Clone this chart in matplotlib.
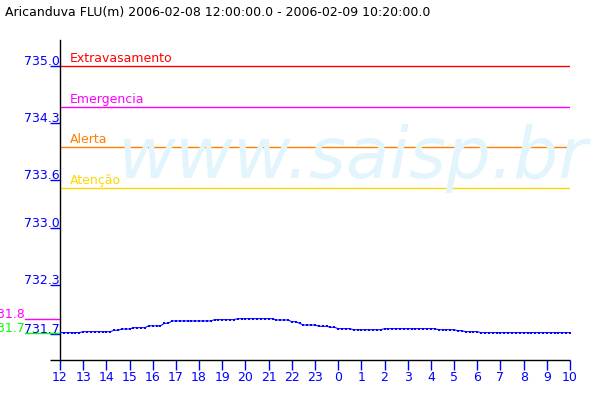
import numpy as np
import matplotlib
matplotlib.use("Agg")
import matplotlib.pyplot as plt
import matplotlib.transforms as mtransforms

# ---------------- data ----------------
title = "Aricanduva FLU(m) 2006-02-08 12:00:00.0 - 2006-02-09 10:20:00.0"
hour_labels = ["12", "13", "14", "15", "16", "17", "18", "19", "20", "21", "22", "23",
               "0", "1", "2", "3", "4", "5", "6", "7", "8", "9", "10"]
ytick_values = [735.0, 734.3, 733.6, 733.0, 732.3, 731.7]
ytick_labels = ["735.0", "734.3", "733.6", "733.0", "732.3", "731.7"]

threshold_names = ["Extravasamento", "Emergencia", "Alerta", "Atenção"]
threshold_levels = [735.0, 734.5, 734.0, 733.5]
threshold_colors = ["#ff0000", "#ff00ff", "#ff8000", "#ffd700"]

# water level, one reading every 10 minutes, from 12:00 to 10:00
level = [
    731.716, 731.716, 731.716, 731.716, 731.716, 731.716,   # 12h
    731.728, 731.728, 731.728, 731.728, 731.728, 731.728,   # 13h
    731.728, 731.728, 731.745, 731.745, 731.761, 731.761,   # 14h
    731.761, 731.777, 731.777, 731.777, 731.777, 731.800,   # 15h
    731.800, 731.800, 731.800, 731.831, 731.831, 731.860,   # 16h
    731.860, 731.860, 731.860, 731.860, 731.860, 731.860,   # 17h
    731.860, 731.860, 731.860, 731.860, 731.876, 731.876,   # 18h
    731.876, 731.876, 731.876, 731.876, 731.888, 731.888,   # 19h
    731.888, 731.888, 731.888, 731.888, 731.888, 731.888,   # 20h
    731.888, 731.888, 731.872, 731.872, 731.872, 731.872,   # 21h
    731.851, 731.851, 731.831, 731.810, 731.810, 731.810,   # 22h
    731.810, 731.794, 731.794, 731.794, 731.782, 731.782,   # 23h
    731.765, 731.765, 731.765, 731.765, 731.752, 731.752,   # 0h
    731.752, 731.752, 731.752, 731.752, 731.752, 731.752,   # 1h
    731.765, 731.765, 731.765, 731.765, 731.765, 731.765,   # 2h
    731.765, 731.765, 731.765, 731.765, 731.765, 731.765,   # 3h
    731.765, 731.765, 731.752, 731.752, 731.752, 731.752,   # 4h
    731.752, 731.740, 731.740, 731.728, 731.728, 731.728,   # 5h
    731.728, 731.716, 731.716, 731.716, 731.716, 731.716,   # 6h
    731.716, 731.716, 731.716, 731.716, 731.716, 731.716,   # 7h
    731.716, 731.716, 731.716, 731.716, 731.716, 731.716,   # 8h
    731.716, 731.716, 731.716, 731.716, 731.716, 731.716,   # 9h
    731.716,                                                # 10h
]
time_h = np.arange(len(level)) / 6.0   # hours since 12:00

# ---------------- figure ----------------
plt.rcParams['font.family'] = ['DejaVu Sans']
FS = 9
BLUE = "#0000ff"

fig = plt.figure(figsize=(6, 4), dpi=100)
fig.patch.set_facecolor("white")
ax = fig.add_axes([0.1, 0.1, 0.85, 0.8])
ax.set_xlim(0, 22)
ax.set_ylim(731.379, 735.32)
for s in ["top", "right", "bottom"]:
    ax.spines[s].set_visible(False)
ax.spines["left"].set_color("black")
ax.spines["left"].set_linewidth(1.0)

# watermark
fig.text(118 / 600, 1 - 178 / 400, "www.saisp.br", fontsize=51, style="italic",
         color="#e3f5fc", ha="left", va="baseline", zorder=0)

# bottom axis line extending slightly left of the y axis
bx = mtransforms.blended_transform_factory(ax.transAxes, ax.transAxes)
ax.plot([-10 / 510, 1.0], [0, 0], color="black", lw=1.0, transform=bx,
        clip_on=False, solid_capstyle="butt")

# threshold lines and labels
off = mtransforms.ScaledTranslation(0, 4 / 100, fig.dpi_scale_trans)
by = mtransforms.blended_transform_factory(ax.transAxes, ax.transData)
for name, lv, c in zip(threshold_names, threshold_levels, threshold_colors):
    ax.axhline(lv, color=c, lw=1.0)
    ax.text(10 / 510, lv, name, color=c, fontsize=FS, ha="left", va="baseline",
            transform=by + off)

# data series
ax.plot(time_h, level, color=BLUE, lw=0.75, marker="s", markersize=1.5,
        markeredgewidth=0, zorder=5)

# max / min markers at the left
vmax = max(level)
vmin = min(level)
ax.plot([-35 / 510, 0], [vmax, vmax], color="#ff00ff", lw=1.0, transform=by,
        clip_on=False)
ax.plot([-35 / 510, 0], [vmin, vmin], color="#00ff00", lw=1.0, transform=by,
        clip_on=False)
off1 = mtransforms.ScaledTranslation(0, 1 / 100, fig.dpi_scale_trans)
ax.text(-35 / 510, vmax, f"{np.floor(vmax * 10) / 10:.1f}", color="#ff00ff",
        fontsize=FS, ha="right", va="baseline", transform=by + off1, clip_on=False)
ax.text(-35 / 510, vmin, f"{np.floor(vmin * 10) / 10:.1f}", color="#00ff00",
        fontsize=FS, ha="right", va="baseline", transform=by + off1, clip_on=False)

# y ticks
ax.set_yticks(ytick_values)
ax.set_yticklabels([""] * len(ytick_values))
ax.tick_params(axis="y", direction="out", length=7.2, width=1.0, colors=BLUE)
for v, lab in zip(ytick_values, ytick_labels):
    ax.text(0, v, lab, color=BLUE, fontsize=FS, ha="right", va="baseline",
            transform=by + off1)

# x ticks
ax.set_xticks(np.arange(len(hour_labels)))
ax.set_xticklabels(hour_labels, fontsize=FS, color=BLUE)
ax.tick_params(axis="x", direction="out", length=7.2, width=1.0, colors=BLUE, pad=1)

# title
fig.text(5 / 600, 1 - 16 / 400, title, fontsize=FS, color="black",
         ha="left", va="baseline")

fig.savefig("out.png", dpi=100)
